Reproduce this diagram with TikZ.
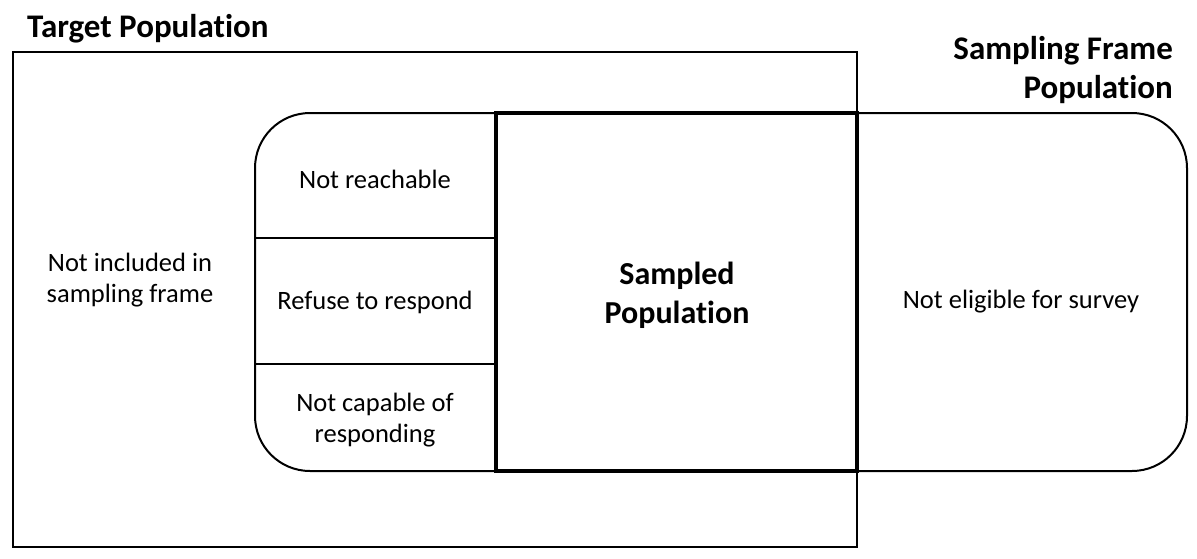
\documentclass[tikz,border=0pt]{standalone}
\usepackage{fontspec}
\setmainfont{Carlito}[Ligatures=NoCommon]
\begin{document}
\begin{tikzpicture}[x=1pt,y=-1pt,
  thinline/.style={line width=2pt},
  thickline/.style={line width=4pt},
  lbl/.style={font=\fontsize{26.5}{31}\selectfont, align=center, inner sep=0pt},
  ttl/.style={font=\fontsize{33}{39}\selectfont\bfseries, inner sep=0pt},
  mid/.style={font=\fontsize{32}{39}\selectfont\bfseries, inner sep=0pt, align=center}]
\useasboundingbox (0,0) rectangle (1197,558);
% shapes
\draw[thinline] (13,52) rectangle (857,547);
\draw[thinline, rounded corners=55pt] (255,113) rectangle (1187,471);
\draw[thinline] (255,238) -- (496,238) (255,364) -- (496,364);
\draw[thickline] (496,113) rectangle (857,471);
% texts
\node[ttl, anchor=west] (target) at (27,29) {Target Population};
\node[ttl, anchor=east, align=right] (frame) at (1173,70) {Sampling Frame\\Population};
\node[lbl] (notincl) at (130,280) {Not included in\\sampling frame};
\node[lbl] (reach) at (375,179) {Not reachable};
\node[lbl] (refuse) at (375,302) {Refuse to respond};
\node[lbl] (capable) at (375,420) {Not capable of\\responding};
\node[mid] (sampled) at (677,295) {Sampled\\Population};
\node[lbl] (elig) at (1021,302) {Not eligible for survey};
\end{tikzpicture}
\end{document}
